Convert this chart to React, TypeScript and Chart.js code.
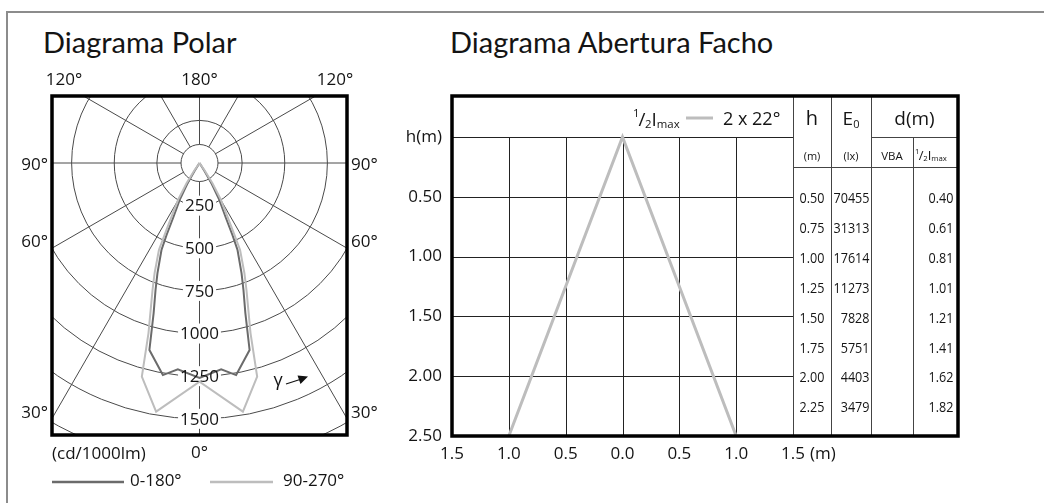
import React, { useEffect, useRef } from "react";
import { Chart, registerables } from "chart.js";
Chart.register(...registerables);

// ---------- Polar diagram data ----------
const polarRings = [250, 500, 750, 1000, 1250, 1500, 1750];
const polarRingLabels = [250, 500, 750, 1000, 1250, 1500];
const polarSpokes = [0, 30, 60, 90, 120, 150, 180, 210, 240, 270, 300, 330];
const topLabels = ["120°", "180°", "120°"];
const sideLabels = ["90°", "60°", "30°"];
const bottomLabels = ["(cd/1000lm)", "0°"];
const seriesNames = ["0-180°", "90-270°"];

// gamma angle (deg, negative = left half) and intensity (cd/1000lm)
const darkAngles = [-90, -32, -30.6, -28.4, -25.8, -24.6, -23.6, -20.9, -19.1, -17.0, -15.0, -9.8, -6.0, 0, 6.0, 9.8, 15.0, 17.0, 19.1, 20.9, 23.6, 24.6, 25.8, 28.4, 30.6, 32, 90];
const darkIntensity = [0, 55, 138, 240, 350, 465, 557, 691, 788, 920, 1135, 1262, 1217, 1261, 1217, 1262, 1135, 920, 788, 691, 557, 465, 350, 240, 138, 55, 0];
const lightAngles = [-90, -34.5, -32.6, -30.3, -27.5, -25.9, -25.0, -22.2, -20.3, -16.7, -15.1, -9.9, 0, 9.9, 15.1, 16.7, 20.3, 22.2, 25.0, 25.9, 27.5, 30.3, 32.6, 34.5, 90];
const lightIntensity = [0, 57, 141, 245, 355, 470, 563, 697, 794, 1041, 1298, 1480, 1283, 1480, 1298, 1041, 794, 697, 563, 470, 355, 245, 141, 57, 0];

// ---------- Beam diagram data ----------
const beamX = [-1.0, 0.0, 1.0];
const beamH = [2.5, 0.0, 2.5];
const beamLabel = "2 x 22°";
const xTicks = [-1.5, -1.0, -0.5, 0, 0.5, 1.0, 1.5];
const yTicks = [0, 0.5, 1.0, 1.5, 2.0, 2.5];
const gridH = [0, 0.5, 1.0, 1.5, 2.0];
const tableH = [0.5, 0.75, 1.0, 1.25, 1.5, 1.75, 2.0, 2.25];
const tableE0 = [70455, 31313, 17614, 11273, 7828, 5751, 4403, 3479];
const tableD = [0.4, 0.61, 0.81, 1.01, 1.21, 1.41, 1.62, 1.82];

const FONT = '"Open Sans"';
const TXT = "#141414";
const DARK = "#6b6b6b";
const LIGHT = "#bdbdbd";

function toXY(angles: number[], vals: number[]) {
  return angles.map((a, i) => ({
    x: vals[i] * Math.sin((a * Math.PI) / 180),
    y: -vals[i] * Math.cos((a * Math.PI) / 180),
  }));
}

function fillCondensed(ctx: CanvasRenderingContext2D, text: string, x: number, y: number, sx: number, align: CanvasTextAlign) {
  ctx.save();
  ctx.translate(x, y);
  ctx.scale(sx, 1);
  ctx.textAlign = align;
  ctx.fillText(text, 0, 0);
  ctx.restore();
}

function drawHalfImax(ctx: CanvasRenderingContext2D, x: number, base: number, size: number) {
  ctx.textAlign = "left";
  ctx.textBaseline = "alphabetic";
  const sup = size * 0.6;
  let w = 0;
  ctx.font = `${sup}px ${FONT}`;
  ctx.fillText("1", x, base - size * 0.48);
  w += ctx.measureText("1").width;
  ctx.font = `${size}px ${FONT}`;
  ctx.fillText("/", x + w - size * 0.05, base);
  w += ctx.measureText("/").width - size * 0.08;
  ctx.font = `${sup}px ${FONT}`;
  ctx.fillText("2", x + w, base + size * 0.1);
  w += ctx.measureText("2").width;
  ctx.font = `${size}px ${FONT}`;
  ctx.fillText("I", x + w, base);
  w += ctx.measureText("I").width;
  ctx.font = `${sup}px ${FONT}`;
  ctx.fillText("max", x + w, base + size * 0.1);
  w += ctx.measureText("max").width;
  return w;
}

const polarDecor = {
  id: "polarDecor",
  beforeDatasetsDraw(chart: any) {
    const { ctx, chartArea: a, scales } = chart;
    const cx = scales.x.getPixelForValue(0);
    const cy = scales.y.getPixelForValue(0);
    const k = (scales.x.getPixelForValue(1000) - cx) / 1000;
    ctx.save();
    ctx.beginPath();
    ctx.rect(a.left, a.top, a.right - a.left, a.bottom - a.top);
    ctx.clip();
    ctx.strokeStyle = "#4a4a4a";
    ctx.lineWidth = 1;
    for (const r of polarRings) {
      ctx.beginPath();
      ctx.arc(cx, cy, r * k, 0, Math.PI * 2);
      ctx.stroke();
    }
    const hub = 18.5;
    ctx.beginPath();
    ctx.arc(cx, cy, hub, 0, Math.PI * 2);
    ctx.stroke();
    for (const g of polarSpokes) {
      const dx = Math.sin((g * Math.PI) / 180);
      const dy = Math.cos((g * Math.PI) / 180);
      ctx.beginPath();
      ctx.moveTo(cx + dx * hub, cy + dy * hub);
      ctx.lineTo(cx + dx * 900, cy + dy * 900);
      ctx.stroke();
    }
    ctx.font = `17px ${FONT}`;
    ctx.fillStyle = "#fff";
    for (const v of polarRingLabels) {
      const y = cy + v * k;
      const w = ctx.measureText(String(v)).width;
      ctx.fillRect(cx - w / 2 - 2, y - 10, w + 4, 20);
    }
    ctx.restore();
  },
  afterDatasetsDraw(chart: any) {
    const { ctx, chartArea: a, scales } = chart;
    const cx = scales.x.getPixelForValue(0);
    const cy = scales.y.getPixelForValue(0);
    const k = (scales.x.getPixelForValue(1000) - cx) / 1000;
    ctx.save();
    ctx.fillStyle = TXT;
    ctx.font = `17px ${FONT}`;
    ctx.textAlign = "center";
    ctx.textBaseline = "middle";
    for (const v of polarRingLabels) ctx.fillText(String(v), cx, cy + v * k + 1);

    // frame
    ctx.strokeStyle = "#000";
    ctx.lineWidth = 3.5;
    ctx.strokeRect(a.left, a.top, a.right - a.left, a.bottom - a.top);

    // outer labels
    ctx.fillStyle = TXT;
    ctx.font = `17px ${FONT}`;
    ctx.textBaseline = "middle";
    ctx.textAlign = "center";
    ctx.fillText(topLabels[0], a.left + 12, 80);
    ctx.fillText(topLabels[1], cx, 80);
    ctx.fillText(topLabels[2], a.right - 12, 80);
    const sideY = [cy + 2, 242, 413];
    sideLabels.forEach((t, i) => {
      ctx.textAlign = "right";
      ctx.fillText(t, a.left - 4, sideY[i]);
      ctx.textAlign = "left";
      ctx.fillText(t, a.right + 4, sideY[i]);
    });
    ctx.textAlign = "left";
    ctx.fillText(bottomLabels[0], a.left, 454);
    ctx.textAlign = "center";
    ctx.fillText(bottomLabels[1], cx, 453);

    // legend
    ctx.lineWidth = 2.5;
    ctx.strokeStyle = DARK;
    ctx.beginPath();
    ctx.moveTo(a.left, 482);
    ctx.lineTo(a.left + 72, 482);
    ctx.stroke();
    ctx.strokeStyle = LIGHT;
    ctx.beginPath();
    ctx.moveTo(210, 482);
    ctx.lineTo(273, 482);
    ctx.stroke();
    ctx.textAlign = "left";
    ctx.fillText(seriesNames[0], a.left + 78, 481);
    ctx.fillText(seriesNames[1], 283, 481);

    // gamma arrow
    ctx.font = `18px ${FONT}`;
    ctx.textAlign = "center";
    ctx.fillText("γ", 278, 381);
    ctx.strokeStyle = "#111";
    ctx.lineWidth = 1.2;
    ctx.beginPath();
    ctx.moveTo(286, 384);
    ctx.lineTo(300, 379.5);
    ctx.stroke();
    ctx.fillStyle = "#111";
    ctx.beginPath();
    ctx.moveTo(308, 376.5);
    ctx.lineTo(297.5, 375.5);
    ctx.lineTo(300.5, 384);
    ctx.closePath();
    ctx.fill();
    ctx.restore();
  },
};

const beamDecor = {
  id: "beamDecor",
  beforeDatasetsDraw(chart: any) {
    const { ctx, chartArea: a, scales } = chart;
    const xs = scales.x, ys = scales.y;
    const y0 = ys.getPixelForValue(0);
    ctx.save();
    ctx.strokeStyle = "#222";
    ctx.lineWidth = 1;
    for (const v of xTicks) {
      if (Math.abs(v) >= 1.5) continue;
      const px = Math.round(xs.getPixelForValue(v)) + 0.5;
      ctx.beginPath();
      ctx.moveTo(px, y0);
      ctx.lineTo(px, a.bottom);
      ctx.stroke();
    }
    for (const h of gridH) {
      const py = Math.round(ys.getPixelForValue(h)) + 0.5;
      ctx.beginPath();
      ctx.moveTo(a.left, py);
      ctx.lineTo(a.right, py);
      ctx.stroke();
    }
    ctx.restore();
  },
  afterDatasetsDraw(chart: any) {
    const { ctx, chartArea: a, scales } = chart;
    const xs = scales.x, ys = scales.y;
    const R = a.right;
    const cols = [0, 38, 78, 120, 165];
    const yHead = ys.getPixelForValue(0);
    const ySub = ys.getPixelForValue(0.25);
    ctx.save();
    // table lines
    ctx.strokeStyle = "#444";
    ctx.lineWidth = 1;
    const vline = (x: number, y1: number, y2: number) => {
      ctx.beginPath();
      ctx.moveTo(Math.round(x) + 0.5, y1);
      ctx.lineTo(Math.round(x) + 0.5, y2);
      ctx.stroke();
    };
    const hline = (x1: number, x2: number, y: number) => {
      ctx.beginPath();
      ctx.moveTo(x1, Math.round(y) + 0.5);
      ctx.lineTo(x2, Math.round(y) + 0.5);
      ctx.stroke();
    };
    vline(R + cols[0], a.top, a.bottom);
    vline(R + cols[1], a.top, a.bottom);
    vline(R + cols[2], a.top, a.bottom);
    vline(R + cols[3], yHead, a.bottom);
    hline(R + cols[2], R + cols[4], yHead);
    hline(R + cols[0], R + cols[4], ySub);

    // headers
    ctx.fillStyle = TXT;
    ctx.textBaseline = "alphabetic";
    ctx.textAlign = "center";
    ctx.font = `20px ${FONT}`;
    ctx.fillText("h", R + 19, 125);
    ctx.font = `19px ${FONT}`;
    const eW = ctx.measureText("E").width;
    ctx.font = `11px ${FONT}`;
    const zW = ctx.measureText("0").width;
    const ex = R + 58 - (eW + zW) / 2;
    ctx.textAlign = "left";
    ctx.font = `19px ${FONT}`;
    ctx.fillText("E", ex, 125);
    ctx.font = `11px ${FONT}`;
    ctx.fillText("0", ex + eW, 128);
    ctx.textAlign = "center";
    ctx.font = `19px ${FONT}`;
    ctx.fillText("d(m)", R + 121.5, 125);
    ctx.font = `11px ${FONT}`;
    ctx.fillText("(m)", R + 19, 160);
    ctx.fillText("(lx)", R + 58, 160);
    ctx.font = `11.5px ${FONT}`;
    ctx.fillText("VBA", R + 99, 160);
    drawHalfImax(ctx, R + 122, 160, 13);

    // rows
    ctx.font = `15px ${FONT}`;
    ctx.textBaseline = "middle";
    tableH.forEach((h, i) => {
      const py = ys.getPixelForValue(h) + 2;
      fillCondensed(ctx, h.toFixed(2), R + 31.5, py, 0.84, "right");
      fillCondensed(ctx, String(tableE0[i]), R + 76.5, py, 0.84, "right");
      fillCondensed(ctx, tableD[i].toFixed(2), R + 160.5, py, 0.84, "right");
    });

    // frame
    ctx.strokeStyle = "#000";
    ctx.lineWidth = 3.5;
    ctx.strokeRect(a.left, a.top, R + cols[4] - a.left, a.bottom - a.top);

    // legend
    ctx.fillStyle = TXT;
    drawHalfImax(ctx, R - 160, 126, 19);
    ctx.strokeStyle = LIGHT;
    ctx.lineWidth = 3;
    ctx.beginPath();
    ctx.moveTo(R - 107, 118);
    ctx.lineTo(R - 80, 118);
    ctx.stroke();
    ctx.font = `18px ${FONT}`;
    ctx.textAlign = "left";
    ctx.textBaseline = "alphabetic";
    ctx.fillText(beamLabel, R - 70, 125);

    // x-axis unit
    ctx.font = `17px ${FONT}`;
    ctx.textBaseline = "middle";
    ctx.fillText("(m)", xs.getPixelForValue(1.5) + 17, 454);
    ctx.restore();
  },
};

export default function App() {
  const polarRef = useRef<HTMLCanvasElement>(null);
  const beamRef = useRef<HTMLCanvasElement>(null);

  useEffect(() => {
    const polar = new Chart(polarRef.current as HTMLCanvasElement, {
      type: "scatter",
      data: {
        datasets: [
          {
            label: seriesNames[1],
            data: toXY(lightAngles, lightIntensity),
            showLine: true,
            borderColor: LIGHT,
            borderWidth: 2,
            pointRadius: 0,
            fill: false,
          },
          {
            label: seriesNames[0],
            data: toXY(darkAngles, darkIntensity),
            showLine: true,
            borderColor: DARK,
            borderWidth: 2,
            pointRadius: 0,
            fill: false,
          },
        ],
      },
      options: {
        animation: false,
        responsive: false,
        devicePixelRatio: 1,
        layout: { padding: { left: 52, right: 53, top: 96, bottom: 68 } },
        scales: {
          x: { type: "linear", min: -865, max: 865, display: false },
          y: { type: "linear", min: -1595, max: 393, display: false },
        },
        plugins: { legend: { display: false }, tooltip: { enabled: false } },
      },
      plugins: [polarDecor],
    } as any);

    const beam = new Chart(beamRef.current as HTMLCanvasElement, {
      type: "scatter",
      data: {
        datasets: [
          {
            label: beamLabel,
            data: beamX.map((x, i) => ({ x, y: beamH[i] })),
            showLine: true,
            borderColor: LIGHT,
            borderWidth: 3,
            pointRadius: 0,
            fill: false,
          },
        ],
      },
      options: {
        animation: false,
        responsive: false,
        devicePixelRatio: 1,
        layout: { padding: { left: 0, right: 251, top: 96, bottom: 0 } },
        scales: {
          x: {
            type: "linear",
            min: -1.5,
            max: 1.5,
            afterBuildTicks: (s: any) => {
              s.ticks = xTicks.map((v) => ({ value: v }));
            },
            afterFit: (s: any) => {
              s.height = 67;
            },
            grid: { display: false, drawTicks: false },
            border: { display: false },
            ticks: {
              callback: (v: any) => Math.abs(Number(v)).toFixed(1),
              font: { family: FONT, size: 17 },
              color: TXT,
              padding: 8,
              maxRotation: 0,
              autoSkip: false,
            },
          },
          y: {
            type: "linear",
            reverse: true,
            min: -0.343,
            max: 2.5,
            afterBuildTicks: (s: any) => {
              s.ticks = yTicks.map((v) => ({ value: v }));
            },
            afterFit: (s: any) => {
              s.width = 52;
            },
            grid: { display: false, drawTicks: false },
            border: { display: false },
            ticks: {
              callback: (v: any) => (Number(v) === 0 ? "h(m)" : Number(v).toFixed(2)),
              font: { family: FONT, size: 17 },
              color: TXT,
              padding: 10,
              autoSkip: false,
            },
          },
        },
        plugins: { legend: { display: false }, tooltip: { enabled: false } },
      },
      plugins: [beamDecor],
    } as any);

    return () => {
      polar.destroy();
      beam.destroy();
    };
  }, []);

  return (
    <div
      style={{
        position: "absolute",
        left: 0,
        top: 0,
        width: 1044,
        height: 503,
        background: "#fff",
        overflow: "hidden",
      }}
    >
      <div
        style={{
          position: "absolute",
          left: 6,
          top: 10.5,
          width: 1060,
          height: 491,
          borderTop: "2.5px solid #8c8c8c",
          borderLeft: "2.5px solid #8c8c8c",
        }}
      />
      <div
        style={{
          position: "absolute",
          left: 43,
          top: 27,
          font: "29px Lato",
          lineHeight: "29px",
          whiteSpace: "nowrap",
          color: TXT,
        }}
      >
        Diagrama Polar
      </div>
      <div
        style={{
          position: "absolute",
          left: 450,
          top: 27,
          font: "29px Lato",
          lineHeight: "29px",
          whiteSpace: "nowrap",
          color: TXT,
        }}
      >
        Diagrama Abertura Facho
      </div>
      <canvas
        ref={polarRef}
        width={400}
        height={503}
        style={{ position: "absolute", left: 0, top: 0, width: 400, height: 503 }}
      />
      <canvas
        ref={beamRef}
        width={644}
        height={503}
        style={{ position: "absolute", left: 400, top: 0, width: 644, height: 503 }}
      />
    </div>
  );
}
